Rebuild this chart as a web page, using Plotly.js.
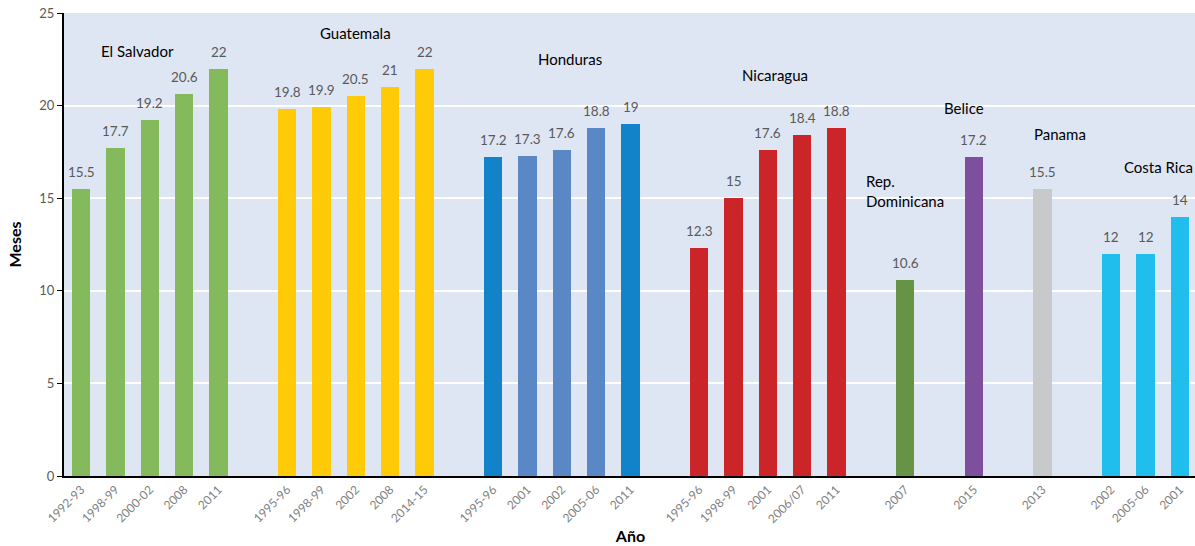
<!DOCTYPE html>
<html>
<head>
<meta charset="utf-8">
<script src="https://cdn.plot.ly/plotly-3.0.1.min.js"></script>
<style>
  html, body { margin: 0; padding: 0; overflow: hidden; background: #fff; }
  #chart { width: 1197px; height: 546px; }
</style>
</head>
<body>
<div id="chart"></div>
<script>
// Duración de la lactancia materna (meses) por país y periodo de encuesta
const countries = ["El Salvador", "Guatemala", "Honduras", "Nicaragua", "Rep.<br>Dominicana", "Belice", "Panama", "Costa Rica"];

const periods = [
  ["1992-93", "1998-99", "2000-02", "2008", "2011"],
  ["1995-96", "1998-99", "2002", "2008", "2014-15"],
  ["1995-96", "2001", "2002", "2005-06", "2011"],
  ["1995-96", "1998-99", "2001", "2006/07", "2011"],
  ["2007"],
  ["2015"],
  ["2013"],
  ["2002", "2005-06", "2001"]
];

const months = [
  [15.5, 17.7, 19.2, 20.6, 22],
  [19.8, 19.9, 20.5, 21, 22],
  [17.2, 17.3, 17.6, 18.8, 19],
  [12.3, 15, 17.6, 18.4, 18.8],
  [10.6],
  [17.2],
  [15.5],
  [12, 12, 14]
];

const barColors = [
  ["#84BA5B", "#84BA5B", "#84BA5B", "#84BA5B", "#84BA5B"],
  ["#FFCA08", "#FFCA08", "#FFCA08", "#FFCA08", "#FFCA08"],
  ["#1283C8", "#5A88C6", "#5A88C6", "#5A88C6", "#1283C8"],
  ["#CC2529", "#CC2529", "#CC2529", "#CC2529", "#CC2529"],
  ["#669345"],
  ["#7E4F9D"],
  ["#C8C9CA"],
  ["#1FBEEC", "#1FBEEC", "#1FBEEC"]
];

// Country label placement: offset (in bar slots) from the group's first bar, and height in months
const labelOffset = [1.63, 2, 2.25, 2.2, -1.2, -0.3, 0.5, 1.38];
const labelHeight = [22.95, 23.9, 22.5, 21.65, 15.4, 19.87, 18.47, 16.7];
const labelAnchor = ["center", "center", "center", "center", "left", "center", "center", "center"];

const font = "Lato, 'Open Sans', sans-serif";
const grey = "#595959";

const traces = [];
const tickvals = [];
const ticktext = [];
const annotations = [];
let slot = 0;

countries.forEach((name, g) => {
  const xs = periods[g].map((_, i) => slot + i);
  xs.forEach((x, i) => { tickvals.push(x); ticktext.push(periods[g][i]); });
  traces.push({
    type: "bar",
    name: name,
    x: xs,
    y: months[g],
    width: 0.525,
    marker: { color: barColors[g] },
    hoverinfo: "x+y"
  });
  // value labels above each bar
  xs.forEach((x, i) => {
    annotations.push({
      x: x,
      y: months[g][i],
      xref: "x",
      yref: "y",
      text: String(months[g][i]),
      showarrow: false,
      xanchor: "center",
      yanchor: "bottom",
      yshift: 7,
      font: { family: font, size: 13.5, color: grey }
    });
  });
  annotations.push({
    x: slot + labelOffset[g],
    y: labelHeight[g],
    xref: "x",
    yref: "y",
    text: name,
    showarrow: false,
    xanchor: labelAnchor[g],
    align: "left",
    font: { family: font, size: 15, color: "#000" }
  });
  slot += periods[g].length + 1;
});

const layout = {
  width: 1197,
  height: 546,
  margin: { l: 64, r: 0, t: 13, b: 70 },
  paper_bgcolor: "#ffffff",
  plot_bgcolor: "#DFE6F3",
  showlegend: false,
  bargap: 0,
  xaxis: {
    range: [-0.5, slot - 1.5],
    tickvals: tickvals,
    ticktext: ticktext,
    tickangle: -45,
    tickfont: { family: font, size: 12, color: "#7F7F7F" },
    showgrid: false,
    showline: true,
    linecolor: "#000",
    linewidth: 2,
    ticks: "",
    zeroline: false,
    title: { text: "<b>Año</b>", font: { family: font, size: 16, color: "#000" }, standoff: 6 }
  },
  yaxis: {
    range: [0, 25],
    dtick: 5,
    tickfont: { family: font, size: 13, color: grey },
    showgrid: true,
    gridcolor: "#ffffff",
    gridwidth: 2,
    showline: true,
    linecolor: "#000",
    linewidth: 2,
    ticks: "outside",
    ticklen: 5,
    tickcolor: "#000",
    zeroline: false,
    title: { text: "<b>Meses</b>", font: { family: font, size: 16, color: "#000" }, standoff: 14 }
  },
  annotations: annotations
};

Plotly.newPlot("chart", traces, layout, { displayModeBar: false, staticPlot: true });
</script>
</body>
</html>
